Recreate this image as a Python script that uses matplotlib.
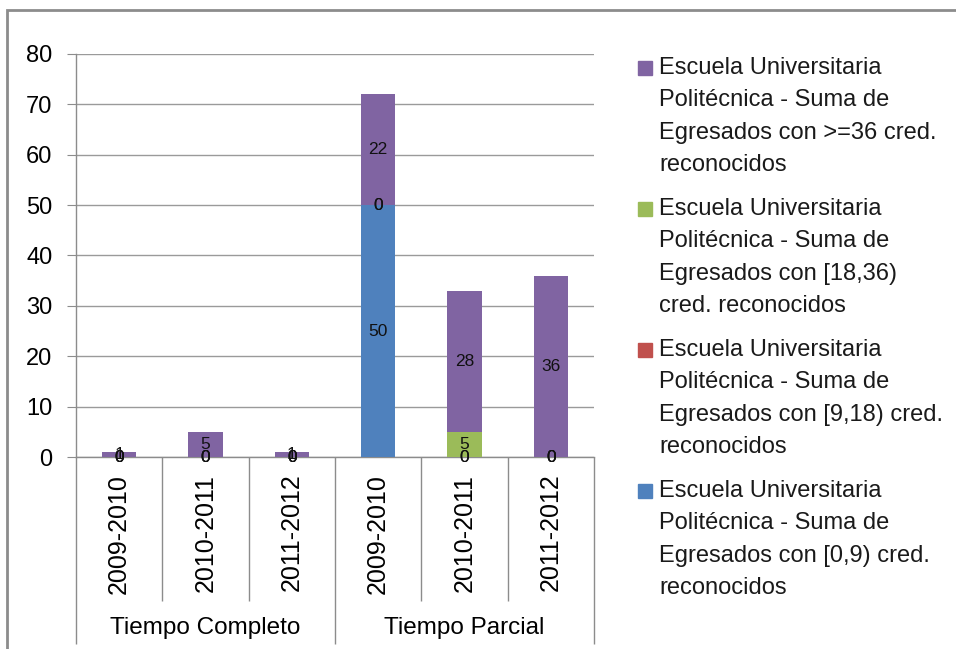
import matplotlib
matplotlib.use("Agg")
import matplotlib.pyplot as plt
from matplotlib.patches import Rectangle
import numpy as np

plt.rcParams['font.family'] = ['Liberation Sans', 'DejaVu Sans']

# Data
years = ["2009-2010", "2010-2011", "2011-2012", "2009-2010", "2010-2011", "2011-2012"]
groups = ["Tiempo Completo", "Tiempo Parcial"]
group_size = 3

s_0_9 = [0, 0, 0, 50, 0, 0]
s_9_18 = [0, 0, 0, 0, 0, 0]
s_18_36 = [0, 0, 0, 0, 5, 0]
s_36 = [1, 5, 1, 22, 28, 36]

series = [s_0_9, s_9_18, s_18_36, s_36]
colors = ["#4F81BD", "#C0504D", "#9BBB59", "#8064A2"]
legend_labels = [
    ["Escuela Universitaria", "Politécnica - Suma de", "Egresados con [0,9) cred.", "reconocidos"],
    ["Escuela Universitaria", "Politécnica - Suma de", "Egresados con [9,18) cred.", "reconocidos"],
    ["Escuela Universitaria", "Politécnica - Suma de", "Egresados con [18,36)", "cred. reconocidos"],
    ["Escuela Universitaria", "Politécnica - Suma de", "Egresados con >=36 cred.", "reconocidos"],
]

W, H = 956, 649
GRAY = "#8c8c8c"

fig = plt.figure(figsize=(W / 100, H / 100), dpi=100)
ax = fig.add_axes([76 / W, 1 - 457 / H, 518 / W, 403 / H])

x = np.arange(len(years))
bottom = np.zeros(len(years))
for vals, col in zip(series, colors):
    bars = ax.bar(x, vals, width=0.4, bottom=bottom, color=col, zorder=3)
    ax.bar_label(bars, label_type='center', fontsize=12.5, color='#111111', zorder=4)
    bottom += np.array(vals)

ax.set_xlim(-0.5, len(years) - 0.5)
ax.set_ylim(0, 80)
ax.set_yticks(range(0, 81, 10))
ax.yaxis.grid(True, color="#9a9a9a", lw=1)
ax.set_axisbelow(True)

for s in ["top", "right"]:
    ax.spines[s].set_visible(False)
for s in ["left", "bottom"]:
    ax.spines[s].set_color(GRAY)
    ax.spines[s].set_linewidth(1)

ax.tick_params(axis='y', length=6.5, color=GRAY, pad=10.5, labelsize=17)
ax.set_xticks(x)
ax.set_xticklabels(years, rotation=90, fontsize=18, va='top')
ax.tick_params(axis='x', length=0, pad=12)

# category separators below the axis
trans = ax.get_xaxis_transform()
short_sep = [i + 0.5 for i in range(len(years) - 1) if (i + 1) % group_size != 0]
long_sep = [-0.5] + [i - 0.5 for i in range(group_size, len(years) + 1, group_size)]
ax.vlines(short_sep, -0.357, 0, transform=trans, colors=GRAY, lw=1, clip_on=False)
ax.vlines(long_sep, -0.464, 0, transform=trans, colors=GRAY, lw=1, clip_on=False)

for gi, g in enumerate(groups):
    cx = gi * group_size + (group_size - 1) / 2
    ax.text(cx, -0.424, g, transform=trans, ha='center', va='center', fontsize=17.5)

# legend (reverse order, like Excel)
line_step = 32.3
entry_step = 141
for k, idx in enumerate(reversed(range(len(series)))):
    base = 74 + k * entry_step
    fig.add_artist(Rectangle((638 / W, 1 - 75 / H - k * entry_step / H), 14 / W, 14 / H,
                             transform=fig.transFigure, color=colors[idx]))
    for li, line in enumerate(legend_labels[idx]):
        fig.text(659 / W, 1 - (base + li * line_step) / H, line, fontsize=17,
                 va='baseline', ha='left', color='#1a1a1a')

# outer chart border
fig.add_artist(Rectangle((7 / W, -0.1), 1.2, 1.1 - 10 / H, transform=fig.transFigure,
                         fill=False, edgecolor=GRAY, lw=2))

fig.savefig("out.png", dpi=100)
